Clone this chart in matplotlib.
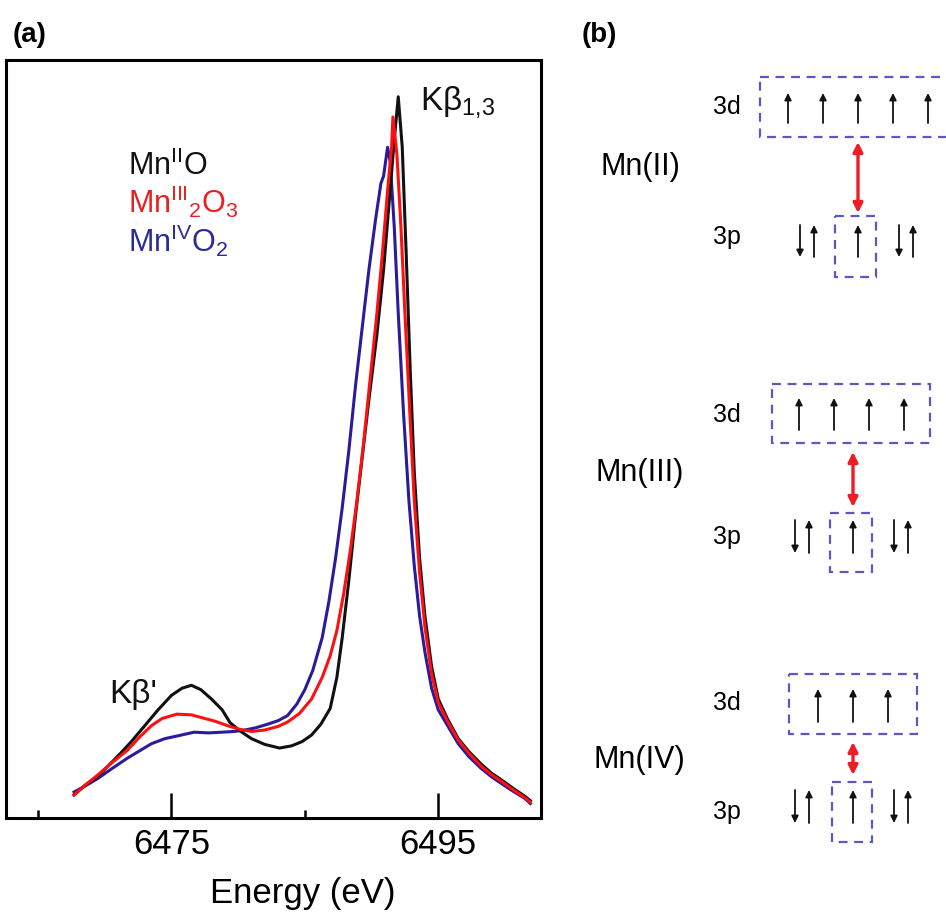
import matplotlib
matplotlib.use("Agg")
import matplotlib.pyplot as plt
from matplotlib.patches import Rectangle

plt.rcParams['font.family'] = ['Liberation Sans', 'DejaVu Sans']
plt.rcParams['mathtext.fontset'] = 'custom'
plt.rcParams['mathtext.rm'] = 'Liberation Sans'
plt.rcParams['mathtext.it'] = 'Liberation Sans:italic'
plt.rcParams['mathtext.bf'] = 'Liberation Sans:bold'
plt.rcParams['mathtext.default'] = 'regular'

# ---- panel (a) data: Kbeta emission spectra, intensity normalised to MnO peak
e_mn2 = [6467.7, 6468.5, 6469.5, 6470.3, 6471.2, 6472.0, 6473.0, 6474.0, 6475.0, 6475.8,
         6476.5, 6477.2, 6478.0, 6478.8, 6479.4, 6480.2, 6481.0, 6482.0, 6483.1, 6484.0,
         6484.8, 6485.5, 6486.2, 6486.9, 6487.4, 6487.8, 6488.3, 6488.8, 6489.3, 6489.8,
         6490.4, 6490.9, 6491.3, 6491.7, 6492.0, 6492.3, 6492.6, 6492.9, 6493.2, 6493.6,
         6494.0, 6494.5, 6495.0, 6495.7, 6496.5, 6497.3, 6498.2, 6499.0, 6499.8, 6500.7,
         6501.5, 6501.9]
i_mn2 = [0.032, 0.045, 0.058, 0.073, 0.090, 0.106, 0.128, 0.150, 0.170, 0.180,
         0.184, 0.178, 0.165, 0.150, 0.132, 0.120, 0.110, 0.102, 0.097, 0.100,
         0.106, 0.115, 0.130, 0.152, 0.195, 0.250, 0.330, 0.420, 0.500, 0.580,
         0.670, 0.760, 0.850, 0.940, 1.000, 0.930, 0.780, 0.620, 0.480, 0.360,
         0.280, 0.210, 0.165, 0.137, 0.110, 0.092, 0.075, 0.062, 0.052, 0.040,
         0.030, 0.024]

e_mn3 = [6467.7, 6468.5, 6469.5, 6470.5, 6471.7, 6472.6, 6473.5, 6474.3, 6475.4, 6476.5,
         6477.5, 6478.3, 6479.2, 6480.1, 6481.0, 6482.0, 6483.0, 6483.7, 6484.6, 6485.5,
         6486.3, 6486.9, 6487.4, 6487.9, 6488.4, 6488.9, 6489.4, 6489.9, 6490.4, 6490.8,
         6491.2, 6491.5, 6491.6, 6491.9, 6492.2, 6492.5, 6492.9, 6493.2, 6493.6, 6494.0,
         6494.5, 6495.0, 6495.7, 6496.5, 6497.3, 6498.2, 6499.0, 6499.8, 6500.7, 6501.5,
         6501.9]
i_mn3 = [0.032, 0.045, 0.060, 0.076, 0.094, 0.112, 0.128, 0.138, 0.144, 0.143,
         0.138, 0.134, 0.128, 0.123, 0.120, 0.122, 0.127, 0.133, 0.145, 0.165,
         0.195, 0.225, 0.260, 0.310, 0.370, 0.440, 0.520, 0.610, 0.700, 0.780,
         0.870, 0.930, 0.972, 0.920, 0.820, 0.700, 0.550, 0.440, 0.340, 0.265,
         0.200, 0.160, 0.134, 0.108, 0.090, 0.072, 0.060, 0.050, 0.038, 0.028,
         0.022]

e_mn4 = [6467.7, 6468.5, 6469.5, 6470.5, 6471.7, 6472.6, 6473.5, 6474.5, 6475.5, 6476.7,
         6477.8, 6478.8, 6479.7, 6480.5, 6481.3, 6482.2, 6483.0, 6483.7, 6484.4, 6485.0,
         6485.6, 6486.3, 6486.8, 6487.3, 6487.8, 6488.3, 6488.8, 6489.3, 6489.8, 6490.3,
         6490.7, 6490.9, 6491.2, 6491.4, 6491.7, 6492.0, 6492.4, 6492.8, 6493.2, 6493.6,
         6494.0, 6494.5, 6495.0, 6495.7, 6496.5, 6497.3, 6498.2, 6499.0, 6499.8, 6500.7,
         6501.5, 6501.9]
i_mn4 = [0.036, 0.044, 0.055, 0.068, 0.083, 0.093, 0.103, 0.110, 0.114, 0.119,
         0.118, 0.119, 0.120, 0.122, 0.125, 0.130, 0.135, 0.142, 0.158, 0.178,
         0.205, 0.250, 0.300, 0.360, 0.430, 0.510, 0.600, 0.680, 0.760, 0.830,
         0.880, 0.890, 0.930, 0.910, 0.820, 0.700, 0.560, 0.440, 0.350, 0.280,
         0.230, 0.180, 0.150, 0.128, 0.103, 0.085, 0.069, 0.057, 0.047, 0.036,
         0.027, 0.020]

major_ticks = [6475, 6495]
minor_ticks = [6465, 6485]

# ---- panel (b) data: Mn oxidation states and their unpaired 3d electrons
states = ['Mn(II)', 'Mn(III)', 'Mn(IV)']
d_electrons = [5, 4, 3]

fig = plt.figure(figsize=(9.46, 9.16), dpi=100)
W, H = 946, 916

ax = fig.add_axes([6 / W, 1 - 818 / H, 535 / W, 758 / H])
ax.plot(e_mn2, i_mn2, color='#111111', lw=2.2, zorder=3)
ax.plot(e_mn3, i_mn3, color='#ff1010', lw=2.2, zorder=4)
ax.plot(e_mn4, i_mn4, color='#2a1a9c', lw=2.2, zorder=2)
ax.set_xlim(6462.6, 6502.7)
ax.set_ylim(0, 1.051)
ax.set_yticks([])
ax.set_xticks(major_ticks)
ax.set_xticks(minor_ticks, minor=True)
ax.tick_params(axis='x', which='major', direction='in', length=18, width=1.8,
               labelsize=25, pad=7)
ax.tick_params(axis='x', which='minor', direction='in', length=6, width=1.8)
for s in ax.spines.values():
    s.set_linewidth(2.2)
ax.set_xlabel('Energy (eV)', fontsize=25)
ax.xaxis.set_label_coords((303 - 6) / 535, -0.078)

ax.text(0.228, 0.848, r'Mn$^{\mathrm{II}}$O', transform=ax.transAxes,
        fontsize=22, color='#111111', va='baseline')
ax.text(0.228, 0.798, r'Mn$^{\mathrm{III}}{}_{2}$O$_{3}$', transform=ax.transAxes,
        fontsize=22, color='#e82020', va='baseline')
ax.text(0.228, 0.747, r'Mn$^{\mathrm{IV}}$O$_{2}$', transform=ax.transAxes,
        fontsize=22, color='#2b2a96', va='baseline')
ax.text(0.774, 0.934, r'K$\beta_{1{,}3}$', transform=ax.transAxes,
        fontsize=24, color='#111111', va='baseline')
ax.text(0.1925, 0.152, "K\u03b2'", transform=ax.transAxes,
        fontsize=24, color='#111111', va='baseline')

fig.text(13 / W, 1 - 22 / H, '(a)', fontsize=20, fontweight='bold', va='top')
fig.text(582 / W, 1 - 22 / H, '(b)', fontsize=20, fontweight='bold', va='top')

# ---- panel (b): energy level diagram drawn in pixel coordinates
bx = fig.add_axes([0, 0, 1, 1], facecolor='none')
bx.set_xlim(0, W)
bx.set_ylim(H, 0)
bx.axis('off')

box_col = '#5c58c2'
# per block: label, 3d row (arrow bottom/top), 3d box, red arrow, 3p row, 3p box
label_xy = [(600, 167), (595, 473), (593, 760)]
d_label_y = [107, 415, 703]
d_box = [(760, 77, 955, 137), (772, 384, 930, 443), (789, 674, 917, 734)]
d_arrow_x0 = [788, 799, 818]
d_arrow_y = [(123, 93), (430, 398), (722, 689)]
red_x = [858, 853, 853]
red_y = [(142, 213), (452, 507), (742, 775)]
p_label_y = [237, 537, 812]
p_box = [(835, 216, 876, 277), (830, 513, 872, 572), (832, 782, 872, 842)]
p_arrow_y = [(257, 225), (553, 520), (823, 790)]
p_center_x = [858, 853, 853]


def arrow(x, y0, y1, **kw):
    bx.annotate('', xy=(x, y1), xytext=(x, y0),
                arrowprops=dict(arrowstyle='-|>', shrinkA=0, shrinkB=0, **kw))


for k, name in enumerate(states):
    bx.text(label_xy[k][0], label_xy[k][1], name, fontsize=22, va='center', ha='left')
    bx.text(713, d_label_y[k], '3d', fontsize=18, va='center', ha='left')
    bx.text(713, p_label_y[k], '3p', fontsize=18, va='center', ha='left')
    x0, y0, x1, y1 = d_box[k]
    bx.add_patch(Rectangle((x0, y0), x1 - x0, y1 - y0, fill=False, ec=box_col,
                           lw=1.6, ls=(0, (4, 3))))
    x0, y0, x1, y1 = p_box[k]
    bx.add_patch(Rectangle((x0, y0), x1 - x0, y1 - y0, fill=False, ec=box_col,
                           lw=1.6, ls=(0, (4, 3))))
    for j in range(d_electrons[k]):
        ya, yb = d_arrow_y[k]
        arrow(d_arrow_x0[k] + 35 * j, ya, yb, color='#111111', lw=1.3, mutation_scale=10)
    c = p_center_x[k]
    ya, yb = p_arrow_y[k]
    for dx in (-51, 48):
        arrow(c + dx - 7, yb, ya, color='#111111', lw=1.3, mutation_scale=10)
        arrow(c + dx + 7, ya, yb, color='#111111', lw=1.3, mutation_scale=10)
    arrow(c, ya, yb, color='#111111', lw=1.3, mutation_scale=10)
    bx.annotate('', xy=(red_x[k], red_y[k][0]), xytext=(red_x[k], red_y[k][1]),
                arrowprops=dict(arrowstyle='<|-|>', shrinkA=0, shrinkB=0,
                                color='#ee1c24', lw=2.4, mutation_scale=14))

fig.savefig('out.png', dpi=100)
